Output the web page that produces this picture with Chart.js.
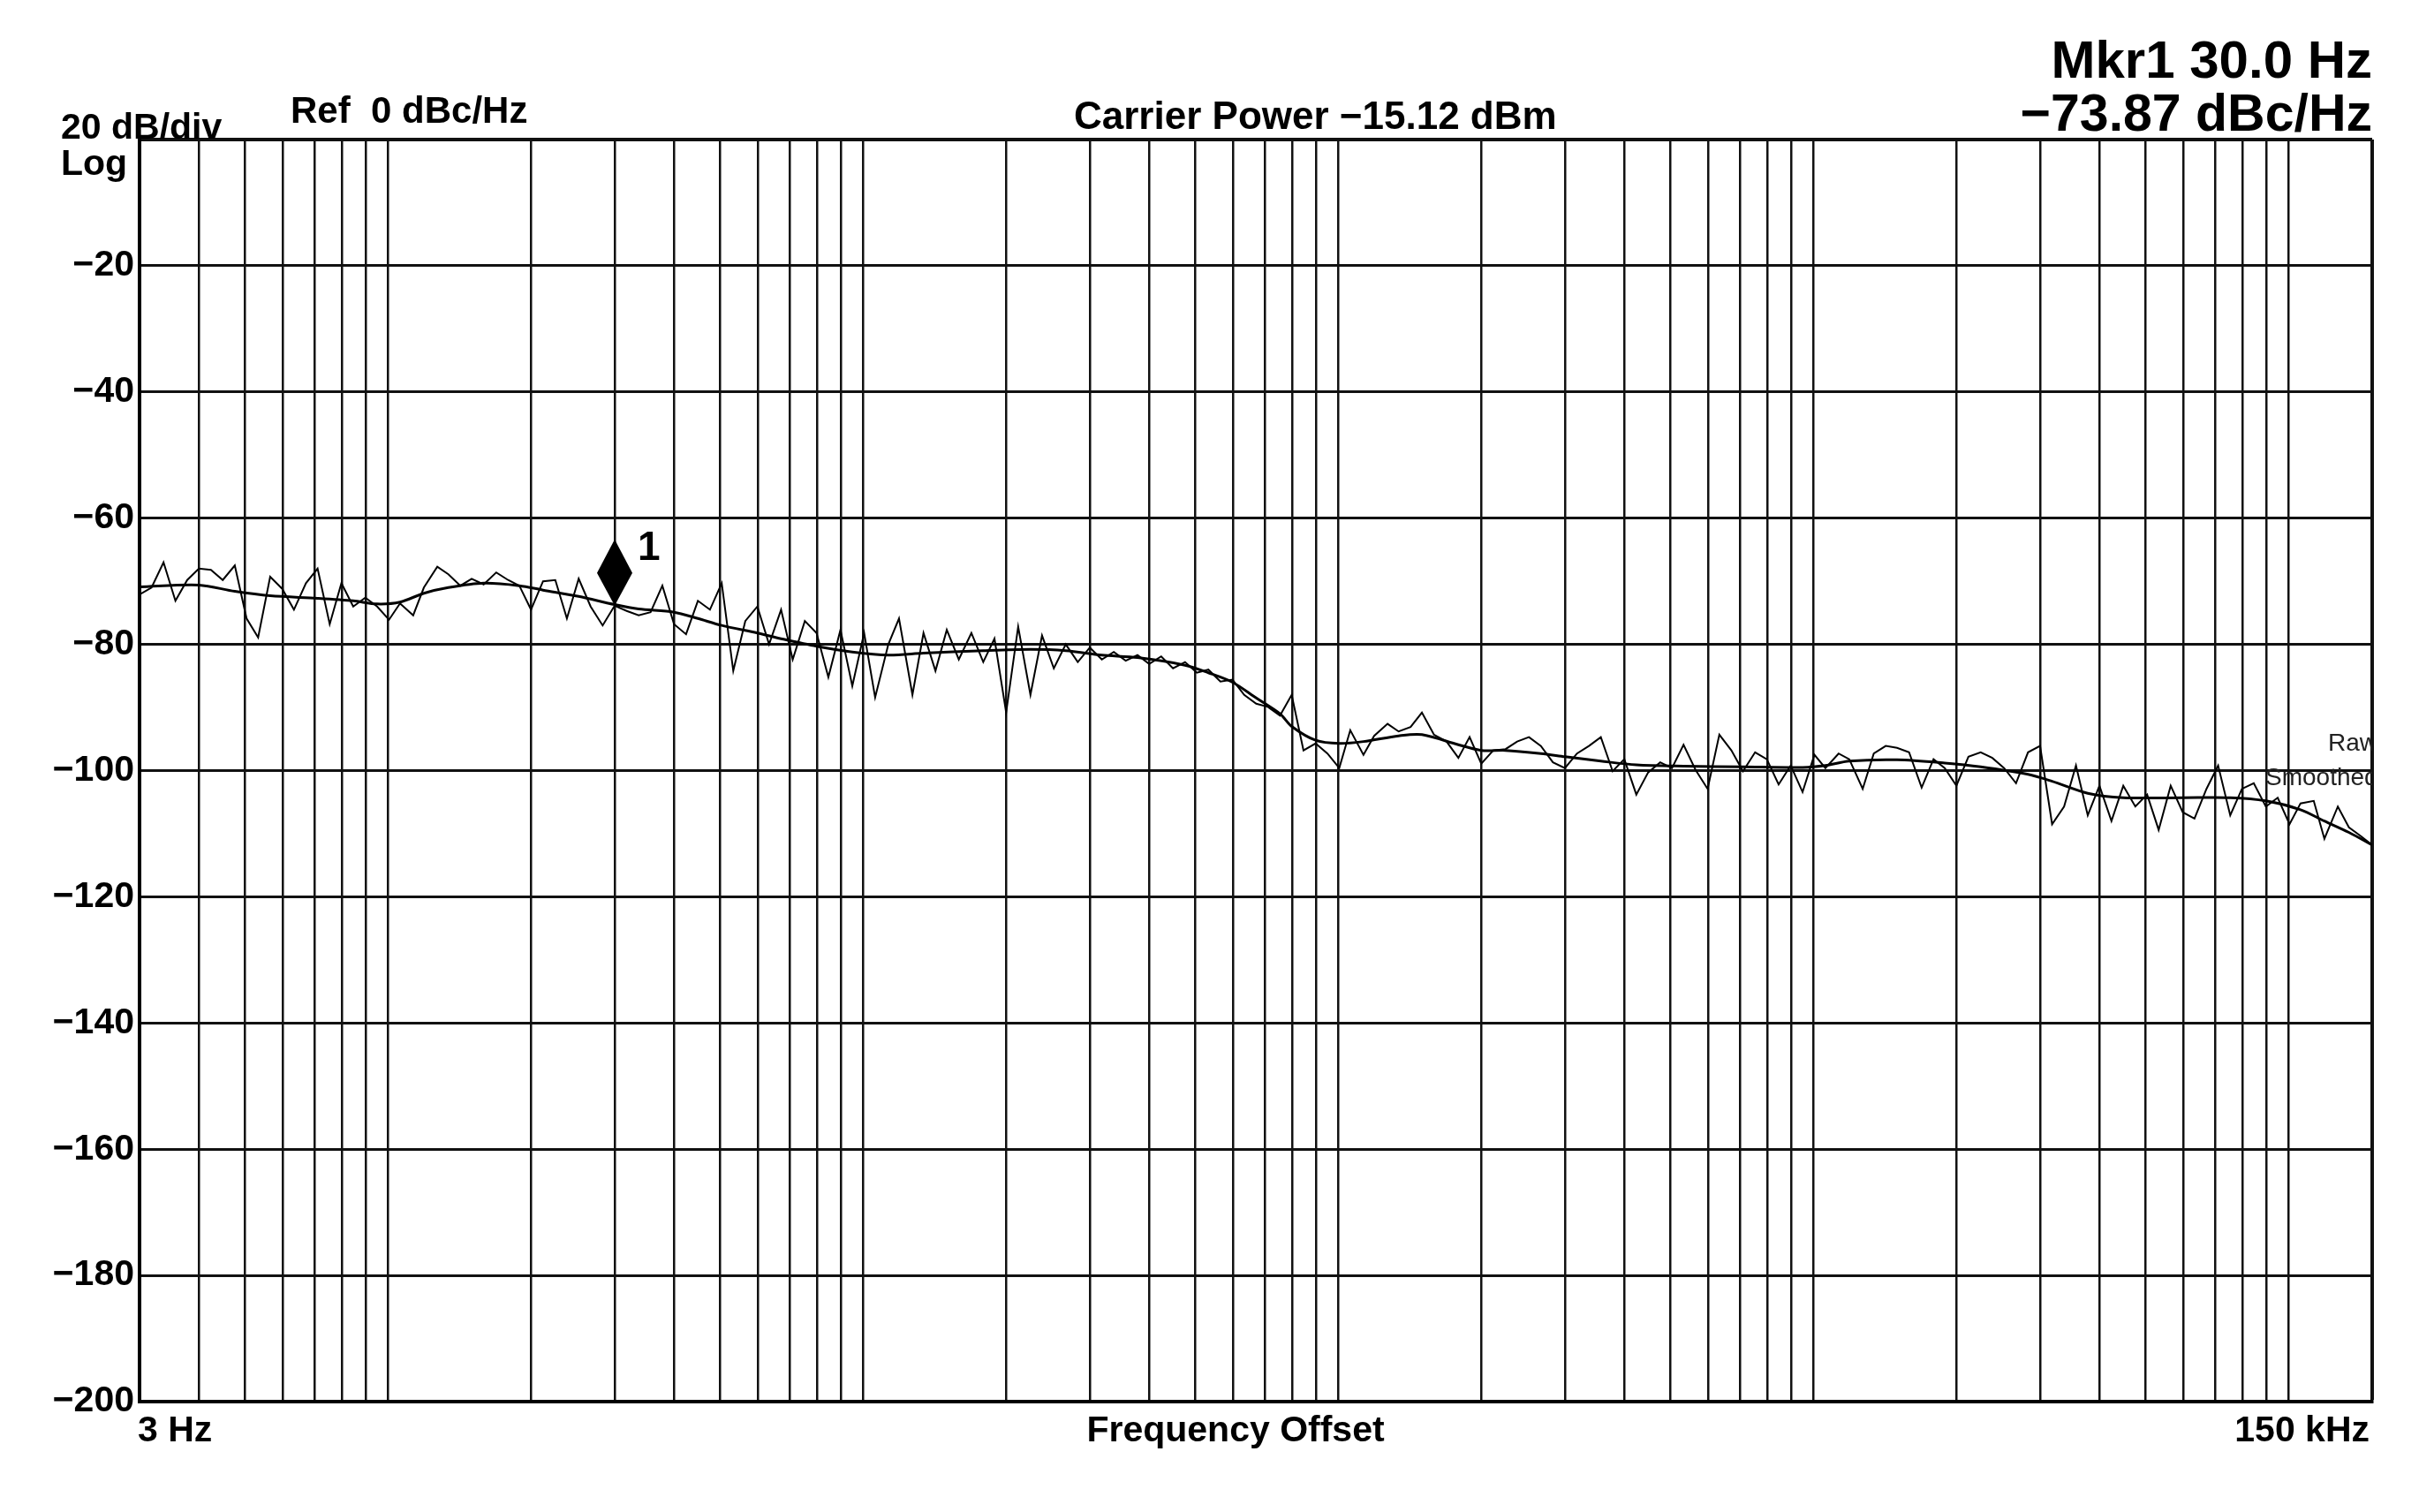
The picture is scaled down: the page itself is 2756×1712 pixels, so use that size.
<!DOCTYPE html>
<html>
<head>
<meta charset="utf-8">
<title>Phase Noise</title>
<script src="https://cdn.jsdelivr.net/npm/chart.js@4.4.0/dist/chart.umd.min.js"></script>
<style>
  html, body { margin: 0; padding: 0; background: #fff; }
  #wrap { width: 2756px; height: 1712px; }
</style>
</head>
<body>
<div id="wrap"><canvas id="chart" width="2756" height="1712"></canvas></div>
<script>
'use strict';

/*** DATA ***/

// raw trace, frequency offset in Hz and level in dBc/Hz
var rawFreq = [
  3, 3.18, 3.37, 3.57, 3.78, 4, 4.24, 4.49, 4.76, 5.04,
  5.33, 5.65, 5.99, 6.34, 6.72, 7.11, 7.54, 7.98, 8.45, 8.96,
  9.49, 10.05, 10.6, 11.3, 11.9, 12.7, 13.4, 14.2, 15, 15.9,
  16.9, 17.9, 18.9, 20, 21.2, 22.5, 23.8, 25.2, 26.7, 28.3,
  30, 31.8, 33.7, 35.7, 37.8, 40, 42.4, 44.9, 47.6, 50.4,
  53.3, 56.5, 59.9, 63.4, 67.2, 71.1, 75.4, 79.8, 84.5, 89.6,
  94.9, 100.5, 106, 113, 119, 127, 134, 142, 150, 159,
  169, 179, 189, 200, 212, 225, 238, 252, 267, 283,
  300, 318, 337, 357, 378, 400, 424, 449, 476, 504,
  533, 565, 599, 634, 672, 711, 754, 798, 845, 896,
  949, 1005, 1060, 1130, 1190, 1270, 1340, 1420, 1500, 1590,
  1690, 1790, 1890, 2000, 2120, 2250, 2380, 2520, 2670, 2830,
  3000, 3180, 3370, 3570, 3780, 4000, 4240, 4490, 4760, 5040,
  5330, 5650, 5990, 6340, 6720, 7110, 7540, 7980, 8450, 8960,
  9490, 10050, 10600, 11300, 11900, 12700, 13400, 14200, 15000, 15900,
  16900, 17900, 18900, 20000, 21200, 22500, 23800, 25200, 26700, 28300,
  30000, 31800, 33700, 35700, 37800, 40000, 42400, 44900, 47600, 50400,
  53300, 56500, 59900, 63400, 67200, 71100, 75400, 79800, 84500, 89600,
  94900, 100500, 106000, 113000, 119000, 127000, 134000, 142000, 150000
];
var rawLevel = [
  -72.1, -71.0, -67.0, -73.1, -69.8, -68.0, -68.2, -69.8, -67.5, -75.9,
  -78.9, -69.3, -71.2, -74.5, -70.3, -68.0, -76.8, -70.3, -74.0, -72.6,
  -74.0, -76.1, -73.5, -75.4, -71.0, -67.7, -68.9, -70.7, -69.6, -70.5,
  -68.6, -69.8, -70.7, -74.5, -70.0, -69.8, -75.9, -69.6, -74.0, -77.0,
  -73.87, -74.7, -75.4, -74.9, -70.7, -76.8, -78.4, -73.1, -74.5, -70.3,
  -84.2, -76.3, -74.0, -80.0, -74.5, -82.4, -76.3, -78.2, -85.2, -77.7,
  -86.6, -78.2, -88.4, -80.0, -75.9, -88.0, -78.2, -84.2, -77.7, -82.4,
  -78.2, -82.8, -79.1, -90.8, -77.2, -88.0, -78.6, -83.8, -80.0, -82.8,
  -80.5, -82.4, -81.2, -82.6, -81.7, -83.1, -81.9, -83.8, -82.8, -84.5,
  -84.0, -85.9, -85.6, -88.0, -89.4, -89.9, -91.3, -88.0, -96.8, -95.7,
  -97.3, -99.6, -93.6, -97.5, -94.5, -92.6, -93.8, -93.1, -90.8, -94.3,
  -95.4, -98.0, -94.7, -98.9, -96.8, -96.6, -95.4, -94.7, -96.1, -98.7,
  -99.6, -97.3, -96.1, -94.7, -100.1, -98.2, -103.8, -100.3, -98.7, -99.6,
  -95.9, -99.9, -102.9, -94.3, -96.8, -100.1, -97.1, -98.2, -102.2, -99.2,
  -103.4, -97.5, -99.6, -97.3, -98.2, -102.9, -97.3, -96.1, -96.4, -97.1,
  -102.7, -98.2, -99.6, -102.4, -97.8, -97.1, -98.0, -99.6, -102.0, -97.1,
  -96.1, -108.5, -105.7, -99.2, -107.1, -102.4, -108.0, -102.4, -105.7, -103.8,
  -109.4, -102.4, -106.6, -107.6, -102.9, -99.2, -107.1, -102.9, -102.0, -105.7,
  -104.3, -108.5, -105.2, -104.8, -110.8, -105.7, -109.0, -110.4, -111.8
];

// smoothed trace
var smoothFreq = [
  3, 4, 4.76, 5.65, 7.11, 8.45, 9.49, 10.6, 11.9, 13.4,
  15.9, 18.9, 21.2, 25.2, 30, 33.7, 40, 44.9, 50.4, 59.9,
  67.2, 79.8, 94.9, 113, 134, 179, 225, 267, 318, 378,
  476, 533, 599, 672, 754, 798, 896, 1005, 1130, 1340,
  1500, 1790, 2000, 2250, 2670, 3000, 3570, 4240, 5330, 7110,
  9490, 10600, 11900, 15000, 18900, 22500, 28300, 31800, 37800, 44900,
  59900, 75400, 89600, 106000, 119000, 134000, 150000
];
var smoothLevel = [
  -70.9, -70.6, -71.6, -72.3, -72.7, -73.1, -73.6, -73.3, -71.9, -71.0,
  -70.3, -70.7, -71.4, -72.4, -73.7, -74.4, -74.9, -75.9, -77.0, -78.2,
  -79.1, -80.3, -81.2, -81.7, -81.4, -81.0, -80.8, -81.0, -81.7, -82.1,
  -83.3, -84.5, -86.0, -88.5, -91.0, -93.0, -95.2, -95.7, -95.4, -94.5,
  -94.3, -95.9, -96.8, -96.8, -97.3, -97.8, -98.5, -99.1, -99.3, -99.4,
  -99.5, -99.2, -98.5, -98.3, -98.8, -99.4, -100.6, -101.7, -103.6, -104.3,
  -104.3, -104.3, -104.8, -106.2, -108.0, -109.8, -111.8
];

// axes
var levelMin = -200;
var levelMax = 0;
var levelStep = 20;
var gridFreqs = [
  3, 4, 5, 6, 7, 8, 9, 10, 20, 30, 40, 50, 60, 70, 80, 90,
  100, 200, 300, 400, 500, 600, 700, 800, 900,
  1000, 2000, 3000, 4000, 5000, 6000, 7000, 8000, 9000,
  10000, 20000, 30000, 40000, 50000, 60000, 70000, 80000, 90000,
  100000, 150000
];
var startLabel = '3 Hz';
var stopLabel = '150 kHz';

// marker and header readouts
var markerFreq = 30.0;
var markerLevel = -73.87;
var carrierPower = -15.12;

/*** HELPERS ***/

var FONT = '"Liberation Sans", Arial, sans-serif';

function minus(v) {
  return v < 0 ? '\u2212' + Math.abs(v) : String(v);
}

function drawText(ctx, s, x, y, size, align, weight, color) {
  ctx.save();
  ctx.font = (weight || 'bold') + ' ' + size + 'px ' + FONT;
  ctx.fillStyle = color || '#000';
  ctx.textAlign = align || 'left';
  ctx.textBaseline = 'alphabetic';
  ctx.fillText(s, x, y);
  ctx.restore();
}

function toPoints(xs, ys) {
  var pts = [];
  for (var i = 0; i < xs.length; i++) {
    pts.push({ x: xs[i], y: ys[i] });
  }
  return pts;
}

/*** OVERLAY PLUGIN ***/

// header texts, axis captions, trace names and marker 1
var overlay = {
  id: 'overlay',
  afterDraw: function(chart) {
    var ctx = chart.ctx;
    var area = chart.chartArea;
    var xs = chart.scales.x;
    var ys = chart.scales.y;

    drawText(ctx, '20 dB/div', 69, 157, 41);
    drawText(ctx, 'Log', 69, 198, 41);
    drawText(ctx, 'Ref  0 dBc/Hz', 329, 139, 42);
    drawText(ctx, 'Carrier Power ' + minus(carrierPower) + ' dBm', 1216, 146, 44);
    drawText(ctx, 'Mkr1 30.0 Hz'.replace('30.0', markerFreq.toFixed(1)), area.right, 88, 60, 'right');
    drawText(ctx, minus(markerLevel) + ' dBc/Hz', area.right, 148, 59, 'right');

    drawText(ctx, startLabel, area.left - 2, 1632, 41);
    drawText(ctx, 'Frequency Offset', 1399, 1632, 41, 'center');
    drawText(ctx, stopLabel, area.right - 3, 1632, 41, 'right');

    // trace names, cut off at the right edge of the grid
    ctx.save();
    ctx.beginPath();
    ctx.rect(area.left, area.top, area.right - area.left, area.bottom - area.top);
    ctx.clip();
    drawText(ctx, 'Raw', 2636, 850, 28, 'left', 'normal', '#222');
    drawText(ctx, 'Smoothed', 2565, 889, 28, 'left', 'normal', '#222');
    ctx.restore();

    // marker diamond sits on the trace point
    var mx = xs.getPixelForValue(markerFreq);
    var my = ys.getPixelForValue(markerLevel);
    ctx.save();
    ctx.fillStyle = '#000';
    ctx.beginPath();
    ctx.moveTo(mx, my);
    ctx.lineTo(mx + 20, my - 37);
    ctx.lineTo(mx, my - 75);
    ctx.lineTo(mx - 20, my - 37);
    ctx.closePath();
    ctx.fill();
    ctx.restore();
    drawText(ctx, '1', mx + 26, my - 52, 46);
  }
};

/*** CHART ***/

var makeChart = function() {
  var ctx = document.getElementById('chart').getContext('2d');
  var chart = new Chart(ctx, {
    type: 'line',
    data: {
      datasets: [{
        label: 'Raw',
        data: toPoints(rawFreq, rawLevel),
        borderColor: '#000',
        borderWidth: 2,
        pointRadius: 0,
        tension: 0,
        fill: false
      }, {
        label: 'Smoothed',
        data: toPoints(smoothFreq, smoothLevel),
        borderColor: '#000',
        borderWidth: 3,
        pointRadius: 0,
        tension: 0.3,
        fill: false
      }]
    },
    options: {
      responsive: false,
      animation: false,
      devicePixelRatio: 1,
      layout: { padding: { top: 158, right: 70, left: 0, bottom: 0 } },
      plugins: {
        legend: { display: false },
        tooltip: { enabled: false }
      },
      scales: {
        x: {
          type: 'logarithmic',
          min: rawFreq[0],
          max: rawFreq[rawFreq.length - 1],
          afterBuildTicks: function(scale) {
            scale.ticks = gridFreqs.map(function(v) { return { value: v }; });
          },
          afterFit: function(scale) { scale.height = 125; },
          ticks: { display: false },
          grid: {
            color: '#111',
            drawTicks: false,
            lineWidth: function(c) {
              return c.tick && c.tick.value === gridFreqs[gridFreqs.length - 1] ? 4 : 2.5;
            }
          },
          border: { display: true, color: '#000', width: 4 }
        },
        y: {
          min: levelMin,
          max: levelMax,
          afterFit: function(scale) { scale.width = 158; },
          ticks: {
            stepSize: levelStep,
            padding: 6,
            color: '#000',
            font: { family: FONT, size: 41, weight: 'bold' },
            callback: function(v) { return v === levelMax ? '' : minus(v); }
          },
          grid: {
            color: '#111',
            drawTicks: false,
            lineWidth: function(c) {
              return c.tick && c.tick.value === levelMax ? 4 : 3;
            }
          },
          border: { display: true, color: '#000', width: 4 }
        }
      }
    },
    plugins: [overlay]
  });
  return chart;
};

makeChart();
</script>
</body>
</html>
